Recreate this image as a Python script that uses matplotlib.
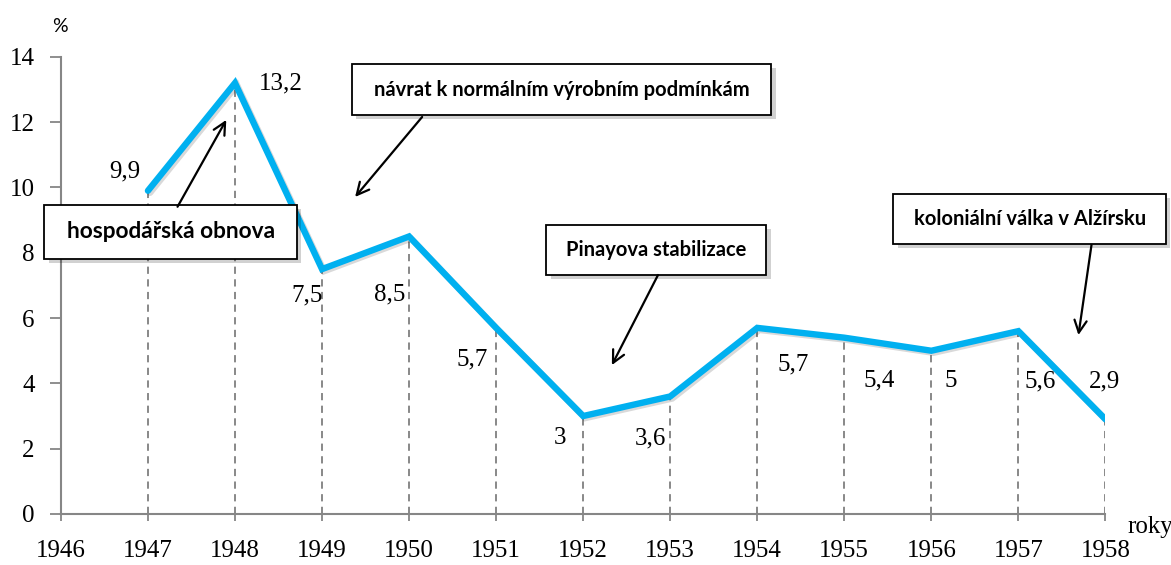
import matplotlib
matplotlib.use("Agg")
import matplotlib.pyplot as plt
import matplotlib.patheffects as pe
from matplotlib.patches import Rectangle

# data
roky = [1947, 1948, 1949, 1950, 1951, 1952, 1953, 1954, 1955, 1956, 1957, 1958]
hodnoty = [9.9, 13.2, 7.5, 8.5, 5.7, 3.0, 3.6, 5.7, 5.4, 5.0, 5.6, 2.9]
popisky = ["9,9", "13,2", "7,5", "8,5", "5,7", "3", "3,6", "5,7", "5,4", "5", "5,6", "2,9"]
# offsets of the value labels (points)
posuny = [(-17, 14), (33, 0), (-11, -19), (-14, -42), (-17, -23), (-17, -16),
          (-14, -30), (26, -26), (25, -31), (14, -22), (16, -36), (-1, 27)]

udalosti = ["hospodářská obnova", "návrat k normálním výrobním podmínkám",
            "Pinayova stabilizace", "koloniální válka v Alžírsku"]
velikosti = [16.3, 14.5, 14.5, 14.5]
# box center, width, height (data units) and arrow start / end
boxy = [(1947.26, 8.64, 2.90, 1.65), (1951.75, 12.99, 4.82, 1.56),
        (1952.84, 8.09, 2.53, 1.53), (1957.13, 9.04, 3.13, 1.53)]
sipky = [((1947.34, 9.41), (1947.90, 12.07)), ((1950.15, 12.16), (1949.38, 9.71)),
         ((1952.86, 7.32), (1952.33, 4.56)), ((1957.84, 8.24), (1957.69, 5.48))]

serif = "Liberation Serif"
sans = "Lato"

fig = plt.figure(figsize=(11.71, 5.65), dpi=100)
ax = fig.add_axes([0.052, 0.0903, 0.892, 0.809])

seda = "#868686"
ax.vlines(roky, 0, hodnoty, colors="#7f7f7f", linestyles=(0, (4, 3)), lw=1.3, zorder=1)
ax.plot(roky, hodnoty, color="#00b0f0", lw=4.6, solid_capstyle="round", solid_joinstyle="miter",
        zorder=3, path_effects=[pe.SimpleLineShadow(offset=(1.5, -1.5), alpha=0.15), pe.Normal()])

for x, y, t, (dx, dy) in zip(roky, hodnoty, popisky, posuny):
    ax.annotate(t, (x, y), xytext=(dx, dy), textcoords="offset points",
                ha="center", va="center", fontsize=18, family=serif, zorder=5)

for t, fs, (cx, cy, w, h), (start, konec) in zip(udalosti, velikosti, boxy, sipky):
    ax.add_patch(Rectangle((cx - w / 2 + 0.05, cy - h / 2 - 0.12), w, h, facecolor="#000000",
                           alpha=0.18, edgecolor="none", zorder=6, clip_on=False))
    ax.add_patch(Rectangle((cx - w / 2, cy - h / 2), w, h, facecolor="white",
                           edgecolor="black", lw=1.3, zorder=7, clip_on=False))
    ax.text(cx, cy, t, ha="center", va="center", fontsize=fs, fontweight="bold",
            family=sans, zorder=8)
    ax.annotate("", xy=konec, xytext=start,
                arrowprops=dict(arrowstyle="->", lw=1.6, color="black", mutation_scale=22,
                                shrinkA=0, shrinkB=0), zorder=8)

ax.set_xlim(1946, 1958)
ax.set_ylim(0, 14)
ax.set_xticks(range(1946, 1959))
ax.set_yticks(range(0, 15, 2))
for s in ["top", "right"]:
    ax.spines[s].set_visible(False)
for s in ["left", "bottom"]:
    ax.spines[s].set_color(seda)
    ax.spines[s].set_linewidth(1.5)
ax.tick_params(axis="x", direction="out", length=5, width=1.3, color=seda, pad=14)
ax.tick_params(axis="y", direction="out", length=8, width=1.3, color=seda, pad=11)
for lbl in ax.get_xticklabels() + ax.get_yticklabels():
    lbl.set_fontfamily(serif)
    lbl.set_fontsize(18)

fig.text(60 / 1171, 1 - 27 / 565, "%", ha="center", va="center", fontsize=14, family=sans)
fig.text(1150 / 1171, 1 - 527 / 565, "roky", ha="center", va="center", fontsize=18, family=serif)

fig.savefig("out.png", dpi=100)
